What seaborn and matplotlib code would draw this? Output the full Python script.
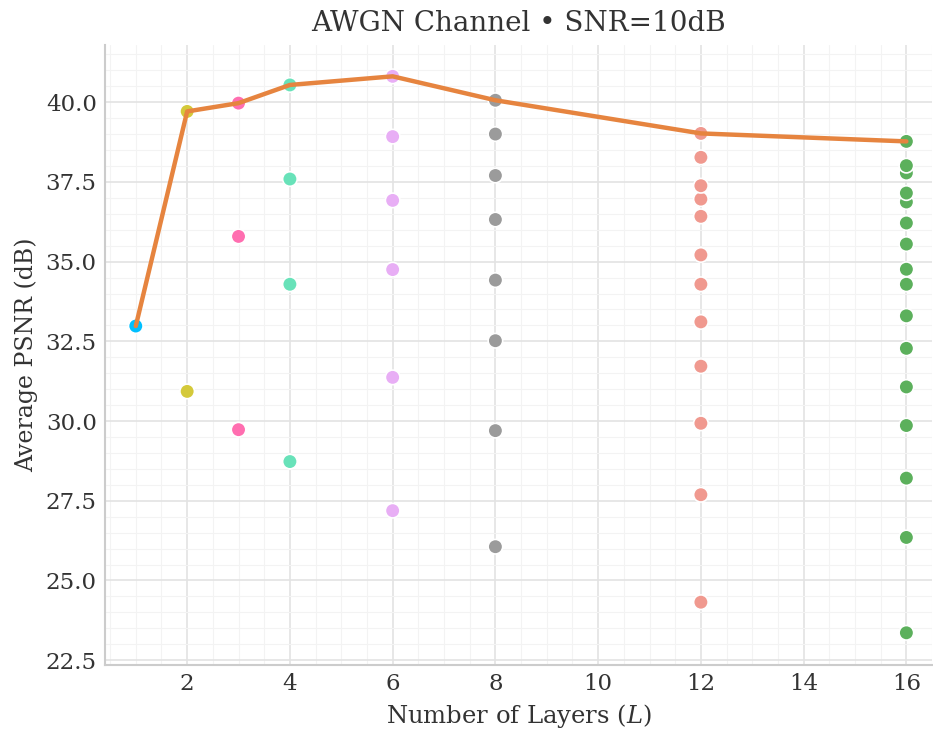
import numpy as np
import pandas as pd
import matplotlib
matplotlib.use("Agg")
import matplotlib.pyplot as plt
from matplotlib.ticker import MultipleLocator
import seaborn as sns

# PSNR per output layer, for each model depth L
psnr_L1 = [32.98]
psnr_L2 = [30.93, 39.71]
psnr_L3 = [29.73, 35.79, 39.97]
psnr_L4 = [28.73, 34.29, 37.59, 40.54]
psnr_L6 = [27.19, 31.37, 34.75, 36.92, 38.92, 40.81]
psnr_L8 = [26.06, 29.70, 32.52, 34.42, 36.32, 37.70, 39.00, 40.06]
psnr_L12 = [24.32, 27.69, 29.93, 31.72, 33.11, 34.29, 35.21, 36.42,
            36.96, 37.38, 38.27, 39.02]
psnr_L16 = [23.36, 26.35, 28.21, 29.86, 31.07, 32.28, 33.30, 34.29,
            34.76, 35.55, 36.21, 36.87, 37.15, 37.78, 38.01, 38.77]

layers = [1, 2, 3, 4, 6, 8, 12, 16]
colors = ["#00bfff", "#d4c93a", "#ff6eb0", "#68e2b9",
          "#e8aef5", "#9b9b9b", "#f0998f", "#5cb05c"]

all_psnr = [psnr_L1, psnr_L2, psnr_L3, psnr_L4, psnr_L6, psnr_L8, psnr_L12, psnr_L16]

df = pd.DataFrame({
    "L": np.repeat(layers, [len(p) for p in all_psnr]),
    "psnr": np.concatenate(all_psnr),
})
best = df.groupby("L", as_index=False)["psnr"].max()

sns.set_theme(style="whitegrid")
plt.rcParams['font.family'] = ['DejaVu Serif']
plt.rcParams['mathtext.fontset'] = 'dejavuserif'

fig = plt.figure(figsize=(9.33, 7.34), dpi=100)
ax = fig.add_axes([0.1125, 0.094, 0.8865, 0.845])

sns.scatterplot(data=df, x="L", y="psnr", hue="L", palette=dict(zip(layers, colors)),
                s=110, edgecolor="white", linewidth=1.2, legend=False, ax=ax, zorder=3)
sns.lineplot(data=best, x="L", y="psnr", color="#e6843f", linewidth=3.2, ax=ax, zorder=4)

ax.set_xlim(0.4, 16.5)
ax.set_ylim(22.35, 41.8)
ax.xaxis.set_major_locator(MultipleLocator(2))
ax.yaxis.set_major_locator(MultipleLocator(2.5))
ax.xaxis.set_minor_locator(MultipleLocator(0.5))
ax.yaxis.set_minor_locator(MultipleLocator(0.5))
ax.grid(which="major", color="#e3e3e3", linewidth=1.2)
ax.grid(which="minor", color="#f3f3f3", linewidth=0.8)
ax.tick_params(which="both", length=0, labelsize=16.5, pad=6)
for lab in ax.get_xticklabels() + ax.get_yticklabels():
    lab.set_color("#333333")

sns.despine(ax=ax)
for side in ["left", "bottom"]:
    ax.spines[side].set_color("#cccccc")
    ax.spines[side].set_linewidth(1.5)

ax.set_title("AWGN Channel • SNR=10dB", fontsize=20, color="#333333", pad=10)
ax.set_xlabel("Number of Layers ($L$)", fontsize=17.5, color="#333333", labelpad=5)
ax.set_ylabel("Average PSNR (dB)", fontsize=17, color="#333333", labelpad=5)

fig.savefig("out.png", dpi=100)
